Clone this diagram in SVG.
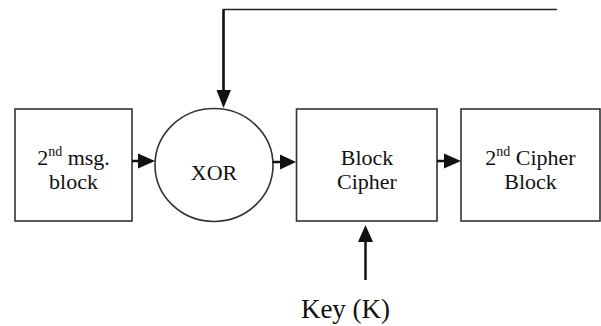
<svg xmlns="http://www.w3.org/2000/svg" width="601" height="326" viewBox="0 0 601 326">
<style>
.box{fill:#fff;stroke:#333;stroke-width:1.6}
.t{font-size:22px;fill:#111;text-anchor:middle}
.sup{font-size:14px}
.ln{fill:none;stroke:#111;stroke-width:2.5}
.thin{fill:none;stroke:#222;stroke-width:1.6}
.ah{fill:#111;stroke:none}
</style>
<rect width="601" height="326" fill="#fff"/>
<g font-family="'Liberation Serif', 'Times New Roman', serif">
<g id="msg">
<rect class="box" x="15" y="109" width="117" height="112"/>
<text class="t" x="73.5" y="165" font-family="Liberation Serif, serif">2<tspan class="sup" dy="-9">nd</tspan><tspan dy="9"> msg.</tspan></text>
<text class="t" x="73.5" y="189" font-family="Liberation Serif, serif">block</text>
</g>
<g id="xor">
<ellipse class="box" cx="214" cy="165" rx="59" ry="56.5"/>
<text class="t" x="214" y="180" font-family="Liberation Serif, serif">XOR</text>
</g>
<g id="cipher">
<rect class="box" x="296.5" y="109" width="140.5" height="112"/>
<text class="t" x="367" y="165" font-family="Liberation Serif, serif">Block</text>
<text class="t" x="367" y="189" font-family="Liberation Serif, serif">Cipher</text>
</g>
<g id="out">
<rect class="box" x="461" y="109" width="139" height="112"/>
<text class="t" x="530.5" y="165" font-family="Liberation Serif, serif">2<tspan class="sup" dy="-9">nd</tspan><tspan dy="9"> Cipher</tspan></text>
<text class="t" x="530.5" y="189" font-family="Liberation Serif, serif">Block</text>
</g>
<g id="key">
<text class="t" x="345.5" y="318" font-family="Liberation Serif, serif" style="font-size:27px">Key (K)</text>
</g>
</g>
<g id="connectors">
<polyline class="thin" points="557,9.5 223.5,9.5 223.5,92"/>
<polyline class="ln" points="223.5,9.5 223.5,92"/>
<polygon class="ah" points="216.5,90 231,90 223.5,108"/>
<line class="ln" x1="132" y1="161" x2="139" y2="161"/>
<polygon class="ah" points="138,153.5 138,168.5 155,161"/>
<line class="ln" x1="273" y1="162" x2="281" y2="162"/>
<polygon class="ah" points="280,154.5 280,169.5 296,162"/>
<line class="ln" x1="437" y1="161" x2="445" y2="161"/>
<polygon class="ah" points="444,153.5 444,168.5 461,161"/>
<line class="ln" x1="365.5" y1="280" x2="365.5" y2="240"/>
<polygon class="ah" points="358,242 373,242 365.5,225"/>
</g>
</svg>
